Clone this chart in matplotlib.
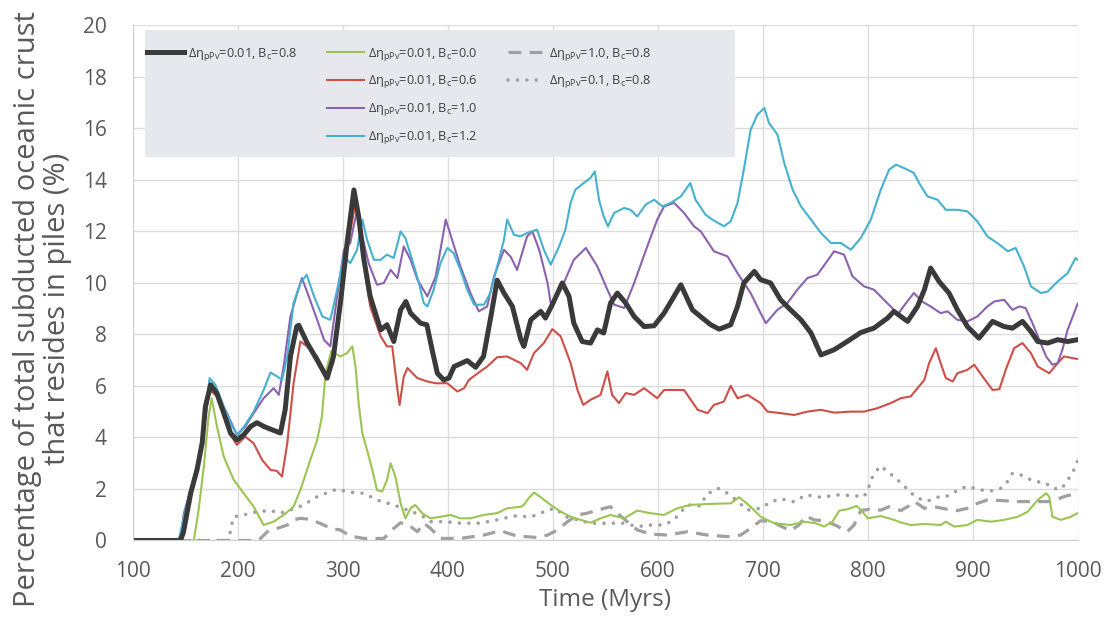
import matplotlib
matplotlib.use("Agg")
import matplotlib.pyplot as plt
from matplotlib.lines import Line2D
from matplotlib.patches import Rectangle

plt.rcParams['font.family'] = ['Open Sans', 'DejaVu Sans']
plt.rcParams['mathtext.fontset'] = 'custom'
plt.rcParams['mathtext.rm'] = 'Open Sans'
plt.rcParams['mathtext.it'] = 'Open Sans'

# --- data (time in Myrs, % of crust in piles) ---
t_bc08 = [100, 145, 148, 155, 161, 166, 169, 174, 180, 186.5, 193, 199, 205.5, 212, 218, 225, 231, 240.5,
          245, 250, 256, 258, 266, 275.5, 285, 291, 298, 304, 310.5, 315, 320, 326, 336, 342, 348.5, 355,
          360, 364.5, 374, 380, 385, 390, 396, 401, 406, 418.5, 426.5, 434, 441, 447, 453.5, 461.5, 469.5,
          472.5, 479, 488.5, 493, 499.5, 509, 515.5, 520, 528, 536, 542.5, 548.5, 555, 561.5, 569.5, 577.5,
          587, 596.5, 606, 615.5, 622, 633, 642.5, 650.5, 658.5, 669.5, 676, 682, 692, 698, 707.5, 717,
          726.5, 736.5, 746, 755.5, 768, 780.5, 793.5, 806, 819, 825, 838, 847.5, 854, 860, 868, 877.5,
          885.5, 895, 906, 919, 930, 938, 947.5, 955.5, 962, 971.5, 981, 990.5, 1000]
y_bc08 = [0, 0, 0.3, 1.84, 2.74, 3.8, 5.2, 6.04, 5.7, 4.94, 4.16, 3.9, 4.1, 4.42, 4.57, 4.42, 4.32, 4.17,
          5.07, 7.14, 8.3, 8.35, 7.66, 7.0, 6.3, 7.14, 9.34, 11.54, 13.6, 12.57, 10.9, 9.47, 8.17, 8.37, 7.72, 8.95,
          9.27, 8.82, 8.43, 8.37, 7.4, 6.49, 6.23, 6.3, 6.75, 6.98, 6.72, 7.14, 8.69, 10.1, 9.6, 9.08, 7.8,
          7.53, 8.56, 8.89, 8.63, 9.15, 9.99, 9.47, 8.43, 7.72, 7.66, 8.17, 8.05, 9.21, 9.6, 9.21, 8.69,
          8.3, 8.33, 8.82, 9.47, 9.92, 8.95, 8.63, 8.37, 8.2, 8.37, 9.08, 9.99, 10.44, 10.12, 9.99, 9.34,
          8.95, 8.56, 8.05, 7.2, 7.4, 7.72, 8.07, 8.24, 8.63, 8.89, 8.5, 9.08, 9.73, 10.57, 10.05, 9.6,
          8.95, 8.3, 7.85, 8.5, 8.3, 8.24, 8.5, 8.11, 7.72, 7.66, 7.79, 7.72, 7.79]

t_bc00 = [100, 158, 162.5, 167.5, 172, 175, 180, 186.5, 196, 205.5, 215, 224.5, 234, 243.5, 253, 259.5, 269,
          275.5, 280, 283.5, 289, 297.5, 304, 309, 312, 315, 318.5, 323, 328, 332.5, 337.5, 342, 345.5, 350,
          355, 359.5, 364.5, 369, 375.5, 383.5, 393, 402.5, 412, 421.5, 434, 447, 456.5, 469.5, 472.5, 477,
          482, 488.5, 498, 507.5, 517, 526.5, 536, 545.5, 555, 568, 580.5, 593, 606, 618.5, 631, 650, 669.5,
          677.5, 688.5, 698, 711, 726.5, 739.5, 750.5, 758.5, 766.5, 773, 780.5, 789.5, 795, 800, 812.5, 825,
          831.5, 841, 854, 869.5, 874.5, 882.5, 895, 904.5, 917.5, 930, 943, 952.5, 962, 970, 973, 976, 984,
          993.5, 1000]
y_bc00 = [0, 0, 1.18, 2.87, 4.8, 5.52, 4.42, 3.25, 2.35, 1.83, 1.31, 0.6, 0.73, 0.99, 1.31, 1.96, 3.13,
          3.9, 4.8, 6.5, 7.35, 7.14, 7.27, 7.53, 6.75, 5.33, 4.16, 3.51, 2.74, 1.96, 1.9, 2.35, 3.0, 2.48,
          1.44, 0.86, 1.25, 1.38, 1.06, 0.86, 0.92, 0.99, 0.86, 0.86, 0.99, 1.06, 1.25, 1.31, 1.38, 1.64,
          1.86, 1.68, 1.38, 1.12, 0.92, 0.8, 0.69, 0.86, 0.99, 0.86, 1.16, 1.06, 0.99, 1.25, 1.38, 1.42, 1.44,
          1.68, 1.31, 0.92, 0.67, 0.6, 0.73, 0.67, 0.54, 0.73, 1.16, 1.21, 1.34, 1.12, 0.86, 0.95, 0.8,
          0.7, 0.6, 0.64, 0.6, 0.73, 0.54, 0.6, 0.8, 0.73, 0.8, 0.92, 1.12, 1.57, 1.83, 1.7, 0.92, 0.8,
          0.92, 1.06]

t_bc06 = [100, 147, 153, 161, 169, 173, 180, 186.5, 193, 199, 207, 215, 223, 231, 237, 242, 247, 253, 259.5,
          266, 275.5, 285, 291, 298, 304, 312, 317, 321.5, 326, 336, 342, 347, 352, 354, 358, 361.5, 371,
          380.5, 388.5, 399.5, 409, 415.5, 420, 431, 437.5, 447, 456.5, 469.5, 475.5, 482, 491.5, 499.5, 507.5,
          517, 523.5, 529, 536, 545.5, 552, 556.5, 563, 569.5, 577.5, 587, 599.5, 606, 625, 638, 647.5, 653.5,
          663, 669.5, 676, 685.5, 698, 704.5, 717, 730, 742.5, 755.5, 768, 784, 796.5, 809, 822, 831.5, 841,
          847.5, 854, 858.5, 865, 869.5, 874.5, 881, 885.5, 895, 901.5, 909.5, 919, 925.5, 931.5, 939.5,
          947.5, 955.5, 962, 973, 981, 987, 1000]
y_bc06 = [0, 0, 1.57, 2.74, 4.8, 5.84, 5.6, 4.9, 4.1, 3.71, 4.03, 3.77, 3.13, 2.74, 2.7, 2.48, 3.77, 6.1, 7.72,
          7.53, 7.14, 6.36, 6.9, 9.1, 11.3, 13.1, 12.19, 10.25, 9.08, 7.92, 7.53, 7.53, 5.84, 5.26, 6.36, 6.69, 6.3,
          6.17, 6.1, 6.1, 5.78, 5.91, 6.23, 6.56, 6.75, 7.11, 7.14, 6.88, 6.62, 7.27, 7.66, 8.2, 7.92,
          6.88, 5.84, 5.26, 5.46, 5.65, 6.56, 5.65, 5.33, 5.72, 5.65, 5.91, 5.52, 5.84, 5.84, 5.07, 4.94, 5.26,
          5.39, 6.0, 5.52, 5.65, 5.33, 5.0, 4.94, 4.87, 5.0, 5.07, 4.96, 5.0, 5.0, 5.13, 5.33, 5.52, 5.59,
          5.91, 6.23, 6.88, 7.46, 6.88, 6.3, 6.17, 6.49, 6.62, 6.82, 6.36, 5.84, 5.87, 6.62, 7.46,
          7.66, 7.27, 6.75, 6.49, 6.88, 7.14, 7.04]

t_bc10 = [100, 145, 148.5, 156.5, 164.5, 170.5, 174, 180, 189.5, 199, 207, 215, 224.5, 234, 239, 243.5, 250,
          256.5, 261, 267.5, 275.5, 282, 288, 294.5, 301, 307, 313.5, 318.5, 324.5, 332.5, 339, 345.5, 352,
          358, 364.5, 371, 380.5, 388.5, 398, 404, 412, 421.5, 429.5, 437.5, 444, 453.5, 460, 466, 475.5,
          480.5, 487, 495, 498, 502.5, 510.5, 520, 531.5, 542.5, 552, 558.5, 568, 577.5, 590, 599.5, 606,
          615.5, 625, 634.5, 641, 653.5, 666.5, 676, 688.5, 698, 703, 714, 723.5, 733, 742.5, 752, 760, 768,
          777.5, 785.5, 796.5, 806, 815.5, 825, 828.5, 836.5, 844, 852, 860, 869.5, 876, 885.5, 895, 904.5,
          914, 920.5, 930, 938, 944.5, 950.5, 957, 963.5, 970, 976, 981, 985.5, 990.5, 1000]
y_bc10 = [0, 0, 1.06, 2.22, 3.51, 5.59, 5.91, 5.72, 4.94, 4.1, 4.42, 4.94, 5.52, 5.91, 5.65, 6.75, 8.69,
          9.6, 10.18, 9.47, 8.56, 7.79, 7.53, 9.47, 11.28, 11.54, 12.83, 11.8, 10.76, 9.92, 9.99, 10.5, 10.18,
          11.41, 10.89, 10.12, 9.47, 10.25, 12.45, 11.67, 10.63, 9.6, 8.89, 9.08, 10.25, 11.28, 11.0, 10.5, 11.8,
          11.99, 11.28, 9.99, 9.21, 9.34, 9.99, 10.89, 11.35, 10.63, 9.73, 9.15, 9.02, 9.99, 11.41, 12.45, 12.96,
          13.1, 12.71, 12.19, 11.99, 11.22, 11.02, 10.37, 9.6, 8.82, 8.43, 8.95, 9.21, 9.73, 10.18, 10.31, 10.76, 11.22,
          11.09, 10.25, 9.86, 9.73, 9.34, 8.95, 8.76, 9.21, 9.6, 9.27, 9.08, 8.82, 8.89, 8.56, 8.5, 8.69,
          9.08, 9.27, 9.34, 8.95, 9.08, 9.02, 8.43, 7.79, 7.14, 6.82, 6.88, 7.4, 8.17, 9.18]

t_bc12 = [100, 143.5, 150, 154.5, 162.5, 169, 173, 178.5, 186.5, 194.5, 200, 207, 215, 224.5, 231, 237.5, 242,
          247, 253, 259.5, 265.5, 272.5, 280.5, 288, 294.5, 301, 307, 313.5, 318.5, 323, 329.5, 336, 342,
          348.5, 355, 359.5, 366, 372.5, 377, 380.5, 386.5, 393, 399.5, 405.5, 412, 418.5, 425, 434.5, 440.5,
          447, 453.5, 456.5, 463, 469, 475.5, 485, 491.5, 498, 506, 512, 517, 521.5, 529.5, 536, 540, 544,
          548.5, 552.5, 558.5, 568, 574, 580.5, 588.5, 596.5, 604.5, 612.5, 622, 631, 636, 645.5, 652, 663,
          669.5, 676, 682, 688.5, 695, 701.5, 706, 714, 720.5, 728.5, 736.5, 746, 755.5, 765, 774.5, 784,
          793.5, 803, 812.5, 820.5, 827, 834.5, 844, 849, 857, 866.5, 874.5, 885.5, 895, 904.5, 914, 923.5,
          933.5, 941, 949, 955.5, 965, 971.5, 981, 990.5, 998, 1000]
y_bc12 = [0, 0, 1.18, 1.83, 2.87, 4.94, 6.3, 6.04, 5.2, 4.42, 4.1, 4.49, 5.0, 5.84, 6.52, 6.36, 6.23,
          7.14, 9.21, 9.99, 10.31, 9.47, 8.69, 8.56, 9.73, 11.02, 10.76, 11.28, 12.45, 11.67, 10.89, 10.89, 11.09,
          10.96, 11.99, 11.74, 10.89, 9.99, 9.21, 9.08, 9.73, 10.76, 11.35, 11.15, 10.5, 9.73, 9.15, 9.15, 9.6,
          10.63, 11.67, 12.45, 11.86, 11.8, 11.93, 12.06, 11.28, 10.7, 11.41, 12.06, 13.1, 13.61, 13.87, 14.07, 14.32, 13.22,
          12.57, 12.19, 12.71, 12.9, 12.83, 12.57, 13.03, 13.22, 12.96, 13.1, 13.35, 13.87, 13.22, 12.64, 12.45, 12.19,
          12.38, 13.1, 14.39, 15.94, 16.52, 16.78, 16.2, 15.75, 14.65, 13.61, 12.96, 12.45, 11.93, 11.54, 11.54, 11.28,
          11.74, 12.45, 13.61, 14.39, 14.58, 14.45, 14.26, 13.87, 13.35, 13.22, 12.83, 12.83, 12.77, 12.38, 11.8, 11.54,
          11.22, 11.35, 10.63, 9.86, 9.6, 9.66, 10.05, 10.37, 10.96, 10.89]

t_eta10 = [100, 218, 221.5, 228, 237.5, 247, 253, 259.5, 269, 282, 288, 297.5, 307, 320, 339, 348.5, 355,
           364.5, 371, 377, 383.5, 393, 412, 434.5, 450, 466, 485, 495, 504.5, 514, 523.5, 533, 542.5, 555,
           561.5, 571, 580.5, 593, 609, 628, 647.5, 666.5, 679, 688.5, 698, 709.5, 717, 726.5, 734.5, 741,
           749, 757, 765, 771, 780.5, 787, 793.5, 801.5, 812.5, 820.5, 831.5, 838, 844.5, 854, 863.5, 876,
           885.5, 895, 904.5, 914, 927, 942.5, 958.5, 974.5, 987, 997, 1000]
y_eta10 = [0, 0, 0.08, 0.34, 0.47, 0.6, 0.8, 0.86, 0.82, 0.6, 0.47, 0.41, 0.17, 0.08, 0.08, 0.47, 0.69,
           0.54, 0.34, 0.67, 0.47, 0.08, 0.08, 0.21, 0.38, 0.17, 0.12, 0.21, 0.41, 0.73, 0.99, 1.06, 1.18, 1.31,
           1.06, 0.73, 0.41, 0.25, 0.21, 0.34, 0.21, 0.15, 0.21, 0.47, 0.77, 0.73, 0.56, 0.38, 0.6, 0.95,
           0.8, 0.77, 0.67, 0.56, 0.34, 0.6, 1.16, 1.21, 1.18, 1.31, 1.16, 1.31, 1.51, 1.25, 1.31, 1.21,
           1.16, 1.25, 1.44, 1.57, 1.55, 1.51, 1.51, 1.51, 1.7, 1.81, 1.83]

t_eta01 = [100, 191, 194, 196, 205.5, 218, 231, 240.5, 250, 262.5, 275.5, 288, 294.5, 307, 320, 332.5, 348.5,
           361.5, 374, 383.5, 397.5, 412, 431, 447, 463, 479, 487, 495, 502.5, 512, 523.5, 536, 552, 568,
           580.5, 593, 606, 615.5, 628, 641, 646, 657, 666.5, 672.5, 685.5, 698, 707.5, 717, 730, 741, 755.5,
           772.5, 788.5, 796.5, 800.5, 803, 807.5, 812.5, 819, 825, 831.5, 838, 844.5, 850.5, 857, 866.5,
           874.5, 881, 888.5, 896.5, 904.5, 912.5, 920.5, 927, 933, 938, 946, 954, 962, 970, 976, 984, 989,
           993.5, 998.5, 1000]
y_eta01 = [0, 0, 0.6, 0.92, 0.99, 1.12, 1.16, 1.06, 1.18, 1.38, 1.7, 1.9, 1.99, 1.87, 1.83, 1.57, 1.38,
           1.18, 0.99, 0.73, 0.73, 0.67, 0.67, 0.8, 0.95, 0.92, 1.03, 1.18, 1.25, 0.92, 0.8, 0.67, 0.67, 0.67,
           0.54, 0.6, 0.6, 0.8, 1.38, 1.34, 1.77, 2.03, 1.83, 1.64, 1.18, 1.25, 1.49, 1.62, 1.5, 1.77, 1.68,
           1.77, 1.73, 1.7, 1.99, 2.35, 2.67, 2.89, 2.67, 2.48, 2.24, 1.99, 1.73, 1.6, 1.53, 1.68,
           1.7, 1.83, 2.03, 2.09, 1.99, 1.93, 1.93, 2.03, 2.28, 2.61, 2.54, 2.38, 2.28, 2.22, 2.03, 1.99, 2.22,
           2.54, 2.87, 3.1]

lbl = r'$\Delta\eta_{\mathregular{pPv}}$=%s, B$_{\mathregular{c}}$=%s'

fig = plt.figure(figsize=(11.1, 6.17), dpi=100)
ax = fig.add_axes([0.1198, 0.124, 0.851, 0.8355])

grey = '#595959'
l_dash, = ax.plot(t_eta10, y_eta10, color='#a0a0a0', lw=2.3, dashes=(4, 2.6), label=lbl % ('1.0', '0.8'))
l_dot, = ax.plot(t_eta01, y_eta01, color='#a0a0a0', lw=2.6, linestyle=(0, (0.01, 2.6)),
                 dash_capstyle='round', solid_capstyle='round', label=lbl % ('0.1', '0.8'))
l_g, = ax.plot(t_bc00, y_bc00, color='#9bc453', lw=1.5, label=lbl % ('0.01', '0.0'))
l_r, = ax.plot(t_bc06, y_bc06, color='#cd4f48', lw=1.5, label=lbl % ('0.01', '0.6'))
l_p, = ax.plot(t_bc10, y_bc10, color='#8a62b0', lw=1.5, label=lbl % ('0.01', '1.0'))
l_c, = ax.plot(t_bc12, y_bc12, color='#45b1cf', lw=1.5, label=lbl % ('0.01', '1.2'))
l_k, = ax.plot(t_bc08, y_bc08, color='#3a3a3a', lw=3.6, label=lbl % ('0.01', '0.8'))

ax.set_xlim(100, 1000)
ax.set_ylim(0, 20)
ax.set_xticks(range(100, 1001, 100))
ax.set_yticks(range(0, 21, 2))
ax.grid(True, color='#dcdcdc', lw=1)
ax.set_axisbelow(True)
for s in ['top', 'right']:
    ax.spines[s].set_visible(False)
for s in ['left', 'bottom']:
    ax.spines[s].set_color('#d0d0d0')
ax.tick_params(length=0, labelsize=15, labelcolor=grey)
ax.tick_params(axis='y', pad=19)
ax.tick_params(axis='x', pad=15)
ax.set_xlabel('Time (Myrs)', fontsize=17.5, color=grey, labelpad=4)
ax.set_ylabel('Percentage of total subducted oceanic crust\nthat resides in piles (%)',
              fontsize=21, color=grey, linespacing=1.05)
ax.yaxis.set_label_coords(-0.0646, 0.449)

# legend: grey background box, entries laid out as 1 / 4 / 2 per column
box = Rectangle((0.0127, 0.744), 0.6245, 0.2464, transform=ax.transAxes,
                facecolor='#e7e7ee', edgecolor='none', zorder=4, clip_on=False)
ax.add_patch(box)
blank = Line2D([], [], alpha=0)
handles = [l_k, blank, blank, blank,
           l_g, l_r, l_p, l_c,
           l_dash, l_dot, blank, blank]
labels = [h.get_label() if h is not blank else '' for h in handles]
leg = ax.legend(handles, labels, ncol=3, loc='upper left',
                bbox_to_anchor=(0.0148, 0.96), frameon=False,
                fontsize=9.2, handlelength=2.9, handletextpad=0.3, labelspacing=0.85,
                borderpad=0, borderaxespad=0, columnspacing=2.35)
leg.set_zorder(5)
for t in leg.get_texts():
    t.set_color('#404040')

fig.savefig('out.png', dpi=100)
